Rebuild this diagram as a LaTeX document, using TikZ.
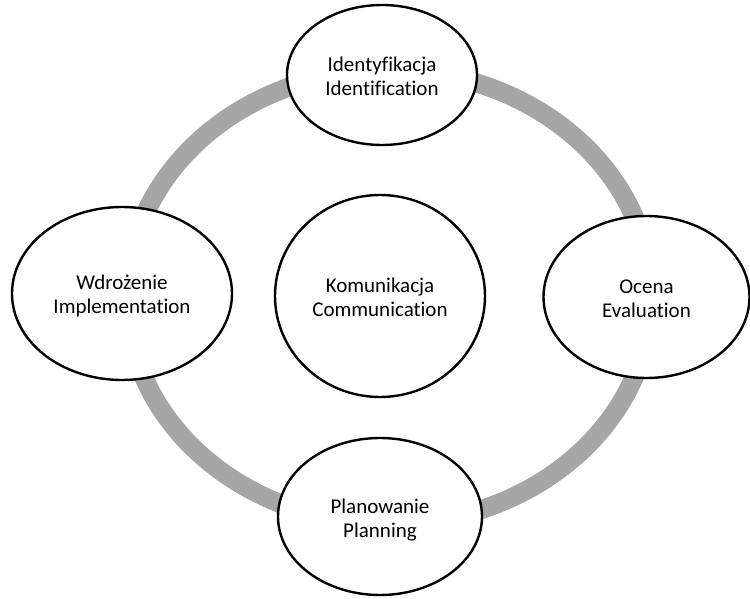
\documentclass[tikz,border=0pt]{standalone}
\usepackage{fontspec}
\setmainfont{Carlito}[Ligatures=NoCommon]
\usetikzlibrary{shapes.geometric}
\definecolor{ringgray}{RGB}{166,166,166}
\newcommand{\toprule}{\rule{0pt}{22pt}}
\newcommand{\botrule}{\rule[-5pt]{0pt}{5pt}}
\tikzset{
  ringline/.style={draw=ringgray, line width=19pt},
  stage/.style={ellipse, draw=black, line width=2.4pt, fill=white, inner sep=0pt,
    align=center, font=\fontsize{21}{24}\selectfont},
}
\begin{document}
\begin{tikzpicture}[x=1pt,y=1pt]
\useasboundingbox (0,0) rectangle (750,598);
\draw[ringline] (389,301) ellipse [x radius=262, y radius=227];
\node[stage, minimum width=190pt, minimum height=140pt] (ident) at (382,523) {\toprule Identyfikacja\\Identification\botrule};
\node[stage, minimum width=220pt, minimum height=173pt] (impl) at (122,304.5) {\toprule Wdrożenie\\Implementation\botrule};
\node[stage, minimum width=206pt, minimum height=162pt] (eval) at (646.5,301) {\toprule Ocena\\Evaluation\botrule};
\node[stage, minimum width=204pt, minimum height=157pt] (plan) at (380,81.5) {\toprule Planowanie\\Planning\botrule};
\node[stage, minimum width=210pt, minimum height=202pt] (comm) at (380,302) {\toprule Komunikacja\\Communication\botrule};
\end{tikzpicture}
\end{document}
